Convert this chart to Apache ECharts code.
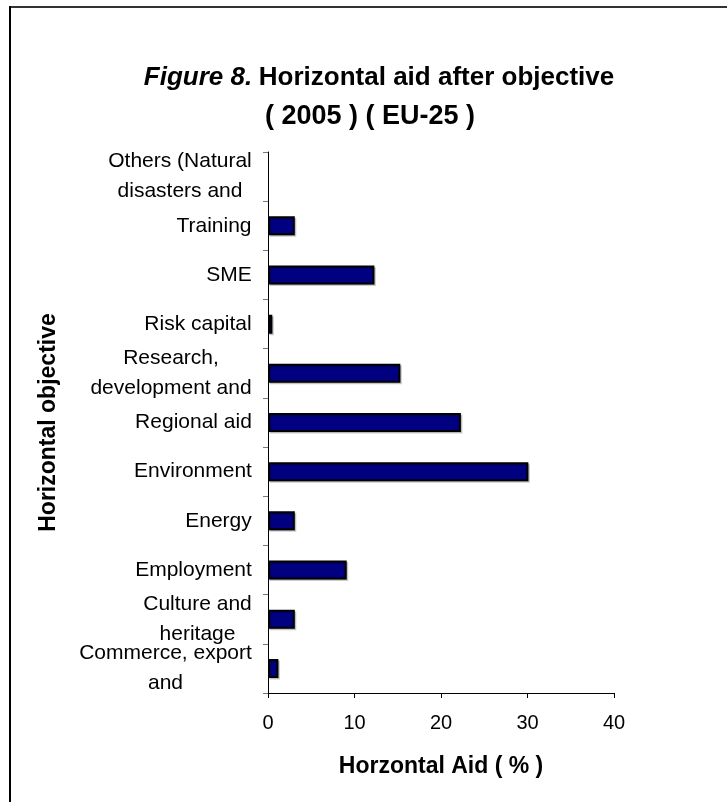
<!DOCTYPE html>
<html><head><meta charset="utf-8">
<script src="https://cdn.jsdelivr.net/npm/echarts@6/dist/echarts.min.js"></script>
<style>html,body{margin:0;padding:0;background:#fff}#c{width:727px;height:802px}</style>
</head><body><div id="c"></div>
<script>
// ---- data ----
const categories = [
  'Commerce, export\nand',
  'Culture and\nheritage',
  'Employment',
  'Energy',
  'Environment',
  'Regional aid',
  'Research,\ndevelopment and',
  'Risk capital',
  'SME',
  'Training',
  'Others (Natural\ndisasters and'
];
const values = [1.2, 3.1, 9.1, 3.1, 30.1, 22.3, 15.3, 0.5, 12.3, 3.1, 0];
const xMin = 0, xMax = 40, xInterval = 10;
const titleItalic = 'Figure 8.';
const titleBold = 'Horizontal aid after objective';
const titleLine2 = '( 2005 ) ( EU-25 )';
const xName = 'Horzontal Aid ( % )';
const yName = 'Horizontal objective';

// ---- styling / layout ----
const FONT = '"Liberation Sans", Arial, Helvetica, sans-serif';
const LABEL_SIZE = 21;
const ctx = document.createElement('canvas').getContext('2d');
ctx.font = LABEL_SIZE + 'px ' + FONT;
const rich = {};
categories.forEach((c, i) => {
  const w = Math.max(...c.split('\n').map(l => ctx.measureText(l).width));
  rich['r' + i] = { width: Math.ceil(w), align: 'center', fontSize: LABEL_SIZE, lineHeight: 30, fontFamily: FONT, color: '#000' };
});

const chart = echarts.init(document.getElementById('c'), null, { renderer: 'canvas' });
chart.setOption({
  animation: false,
  backgroundColor: '#fff',
  graphic: [
    { type: 'line', shape: { x1: 10, y1: 7, x2: 727, y2: 7 }, style: { stroke: '#333', lineWidth: 2 }, silent: true },
    { type: 'line', shape: { x1: 10, y1: 6, x2: 10, y2: 802 }, style: { stroke: '#000', lineWidth: 2 }, silent: true },
    {
      type: 'text', x: 379, y: 78, silent: true,
      style: {
        text: '{i|' + titleItalic + '}  {b|' + titleBold + '}',
        align: 'center', verticalAlign: 'middle',
        rich: {
          i: { fontFamily: FONT, fontSize: 26, fontWeight: 'bold', fontStyle: 'italic', fill: '#000' },
          b: { fontFamily: FONT, fontSize: 26, fontWeight: 'bold', fill: '#000' }
        }
      }
    },
    {
      type: 'text', x: 370, y: 117, silent: true,
      style: {
        text: titleLine2, align: 'center', verticalAlign: 'middle',
        fontFamily: FONT, fontSize: 27, fontWeight: 'bold', fill: '#000'
      }
    }
  ],
  grid: { left: 268, top: 152, right: 113, bottom: 109, containLabel: false },
  xAxis: {
    type: 'value', min: xMin, max: xMax, interval: xInterval,
    name: xName, nameLocation: 'middle', nameGap: 62,
    nameTextStyle: { fontFamily: FONT, fontSize: 23, fontWeight: 'bold', color: '#000' },
    axisLine: { show: true, lineStyle: { color: '#000', width: 1 } },
    axisTick: { show: true, length: 5, lineStyle: { color: '#000' } },
    axisLabel: { fontFamily: FONT, fontSize: 20, color: '#000', margin: 20 },
    splitLine: { show: false }
  },
  yAxis: {
    type: 'category', data: categories,
    name: yName, nameLocation: 'middle', nameGap: 208, nameRotate: 90,
    nameTextStyle: { fontFamily: FONT, fontSize: 23, fontWeight: 'bold', color: '#000' },
    axisLine: { show: true, lineStyle: { color: '#000', width: 1 } },
    axisTick: { show: true, length: 5, lineStyle: { color: '#777' } },
    axisLabel: {
      margin: 16, fontFamily: FONT, fontSize: LABEL_SIZE, color: '#000', interval: 0,
      formatter: (v, i) => v.split('\n').map(l => '{r' + i + '|' + l + '}').join('\n'),
      rich: rich
    },
    splitLine: { show: false }
  },
  series: [{
    type: 'bar', barWidth: 19,
    data: values.map(v => v === 0 ? { value: v, itemStyle: { borderWidth: 0, shadowColor: 'transparent' } } : v),
    itemStyle: {
      color: '#000080', borderColor: '#000', borderWidth: 2,
      shadowColor: 'rgba(0,0,0,0.2)', shadowOffsetX: 1.5, shadowOffsetY: 1.5, shadowBlur: 0
    }
  }]
});
</script>
</body></html>
